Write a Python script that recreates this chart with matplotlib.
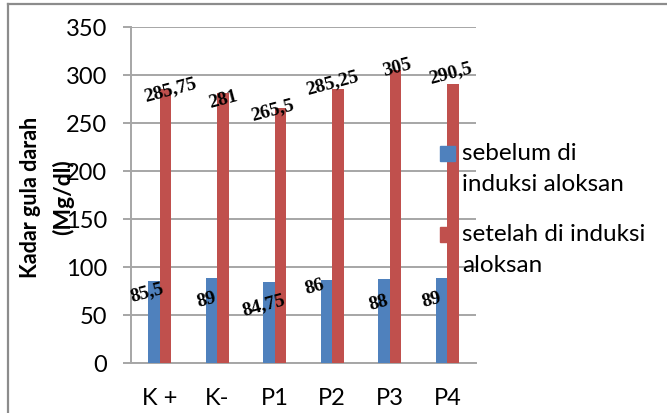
import matplotlib.pyplot as plt
import numpy as np
from matplotlib.lines import Line2D
from matplotlib.patches import Rectangle

# Blood sugar before / after alloxan induction
groups = ["K +", "K-", "P1", "P2", "P3", "P4"]
sebelum = [85.5, 89, 84.75, 86, 88, 89]
setelah = [285.75, 281, 265.5, 285.25, 305, 290.5]
yticks = [0, 50, 100, 150, 200, 250, 300, 350]
series_names = ["sebelum di\ninduksi aloksan", "setelah di induksi\naloksan"]

blue = "#4F81BD"
red = "#C0504D"
grid_col = "#A6A6A6"
sans = "Lato"
serif = "Liberation Serif"

# hand-placed label nudges (dx in category units, dy in mg/dl)
blue_off = [(-0.12, -11.5), (-0.08, -22), (-0.10, -24), (-0.20, -6), (-0.10, -25), (-0.17, -22)]
red_off = [(0.09, 0), (0.0, -6), (-0.14, -1.5), (-0.10, 7), (0.02, 3), (-0.05, 12)]


def fmt(v):
    s = ("%g" % v).replace(".", ",")
    return s


W, H = 667, 414
fig = plt.figure(figsize=(W / 100, H / 100), dpi=100)
ax = fig.add_axes([131 / W, 1 - 364 / H, 345 / W, 336 / H])

x = np.arange(len(groups))
w = 0.2
ax.bar(x - w / 2, sebelum, w, color=blue, zorder=3)
ax.bar(x + w / 2, setelah, w, color=red, zorder=3)

ax.set_xlim(-0.5, len(groups) - 0.5)
ax.set_ylim(0, 350)
ax.set_yticks(yticks)
ax.yaxis.grid(True, color=grid_col, linewidth=1.4, zorder=0)
ax.set_axisbelow(True)
ax.set_xticks(x)
ax.set_xticklabels(groups, fontsize=17, family=sans)
ax.tick_params(axis="x", length=0, pad=17)
ax.tick_params(axis="y", length=6, width=1.4, color=grid_col, pad=11, labelsize=17)
for t in ax.get_yticklabels():
    t.set_family(sans)
for side in ["top", "right"]:
    ax.spines[side].set_visible(False)
for side in ["left", "bottom"]:
    ax.spines[side].set_color(grid_col)
    ax.spines[side].set_linewidth(1.4)

# data labels
for i in range(len(groups)):
    dx, dy = blue_off[i]
    ax.text(x[i] - w / 2 + dx, sebelum[i] + dy, fmt(sebelum[i]), rotation=15,
            ha="center", va="center", fontsize=14, fontweight="bold", family=serif, zorder=5)
    dx, dy = red_off[i]
    ax.text(x[i] + w / 2 + dx, setelah[i] + dy, fmt(setelah[i]), rotation=15,
            ha="center", va="center", fontsize=14, fontweight="bold", family=serif, zorder=5)

# y axis title, two lines overlapping the tick labels
fig.text(31 / W, 1 - 197 / H, "Kadar gula darah", rotation=90, ha="center", va="center",
         fontsize=15.5, fontweight="bold", family=sans)
fig.text(63 / W, 1 - 197 / H, "(Mg/dl)", rotation=90, ha="center", va="center",
         fontsize=16.5, fontweight="bold", family=sans)

# legend: square key aligned with the first line of each wrapped name
for name, col, key_top in zip(series_names, [blue, red], [147, 228]):
    fig.add_artist(Rectangle((440 / W, 1 - (key_top + 15) / H), 15 / W, 15 / H,
                             transform=fig.transFigure, color=col, zorder=4))
    fig.text(462 / W, 1 - (key_top - 4) / H, name, ha="left", va="top",
             fontsize=17.5, family=sans, linespacing=1.6, zorder=5)

# chart border (top and left edges)
fig.add_artist(Line2D([8 / W, 8 / W], [0, 1 - 5 / H], color="#8C8C8C", linewidth=1.6))
fig.add_artist(Line2D([8 / W, 1], [1 - 5 / H, 1 - 5 / H], color="#8C8C8C", linewidth=1.6))

fig.savefig("out.png", dpi=100)
